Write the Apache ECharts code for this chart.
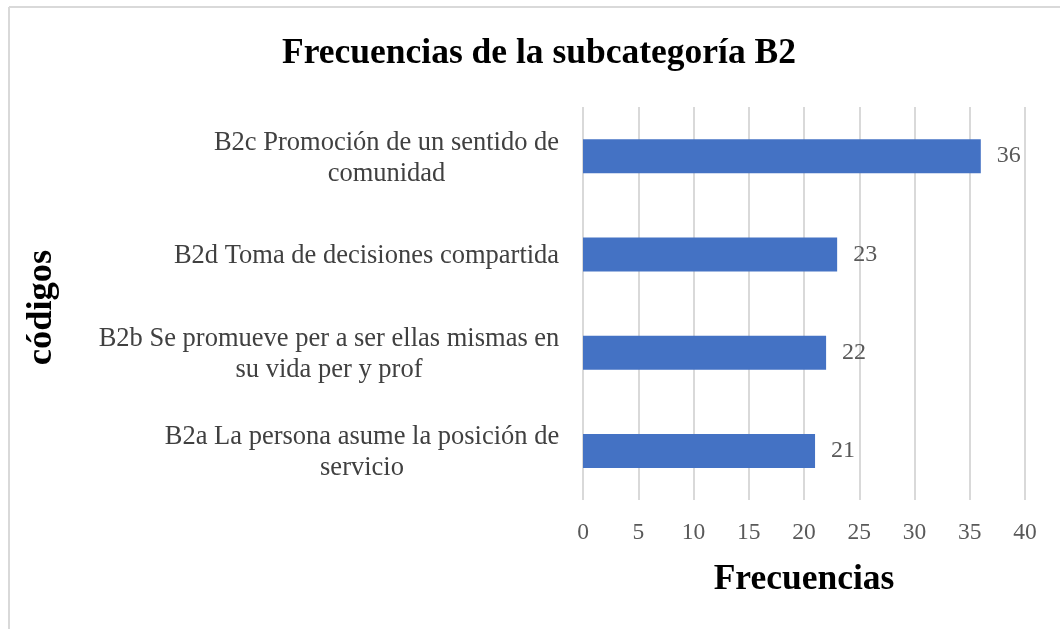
<!DOCTYPE html>
<html>
<head>
<meta charset="utf-8">
<script src="https://cdn.jsdelivr.net/npm/echarts@6/dist/echarts.min.js"></script>
<style>
html,body{margin:0;padding:0;background:#fff;}
#c{width:1060px;height:629px;}
</style>
</head>
<body>
<div id="c"></div>
<script>
const categories = [
  "B2c Promoción de un sentido de\ncomunidad",
  "B2d Toma de decisiones compartida",
  "B2b Se promueve per a ser ellas mismas en\nsu vida per y prof",
  "B2a La persona asume la posición de\nservicio"
];
const values = [36, 23, 22, 21];
const xTicks = [0, 5, 10, 15, 20, 25, 30, 35, 40];

const FONT = "Liberation Serif";
const LABEL_SIZE = 26.5;

// measure widest line of each category label so lines can be centred within the block
const cv = document.createElement('canvas').getContext('2d');
cv.font = LABEL_SIZE + "px '" + FONT + "'";
const rich = {};
categories.forEach((c, i) => {
  const w = Math.max(...c.split('\n').map(l => cv.measureText(l).width));
  rich['l' + i] = {
    width: Math.ceil(w) + 1, align: 'center',
    fontFamily: FONT, fontSize: LABEL_SIZE, color: '#404040', lineHeight: 31
  };
});

const chart = echarts.init(document.getElementById('c'), null, {renderer: 'canvas'});
chart.setOption({
  backgroundColor: '#ffffff',
  animation: false,
  title: {
    text: 'Frecuencias de la subcategoría B2',
    left: 277, top: 31,
    textStyle: {fontFamily: FONT, fontWeight: 'bold', fontSize: 35.5, color: '#000000'}
  },
  graphic: [
    {type: 'line', shape: {x1: 9, y1: 7, x2: 1060, y2: 7}, style: {stroke: '#d9d9d9', lineWidth: 2}},
    {type: 'line', shape: {x1: 9, y1: 7, x2: 9, y2: 629}, style: {stroke: '#d9d9d9', lineWidth: 2}}
  ],
  grid: {left: 583, right: 35, top: 107, bottom: 129, containLabel: false},
  xAxis: {
    type: 'value', min: 0, max: 40, interval: 5,
    name: 'Frecuencias', nameLocation: 'middle', nameGap: 62,
    nameTextStyle: {fontFamily: FONT, fontWeight: 'bold', fontSize: 35.5, color: '#000000'},
    axisLine: {show: false}, axisTick: {show: false},
    axisLabel: {
      margin: 21, fontFamily: FONT, fontSize: 23.5, color: '#595959',
      formatter: v => xTicks.includes(v) ? String(v) : ''
    },
    splitLine: {show: true, lineStyle: {color: '#d9d9d9', width: 2}}
  },
  yAxis: {
    type: 'category', data: categories, inverse: true,
    name: 'códigos', nameLocation: 'middle', nameGap: 523, nameRotate: 90,
    nameTextStyle: {fontFamily: FONT, fontWeight: 'bold', fontSize: 36.5, color: '#000000', padding: [0, 8, 0, 0]},
    axisLine: {show: false}, axisTick: {show: false}, splitLine: {show: false},
    axisLabel: {
      margin: 23, align: 'right', padding: [4, 0, 0, 0],
      formatter: (v, i) => v.split('\n').map(l => '{l' + i + '|' + l + '}').join('\n'),
      rich: rich
    }
  },
  series: [{
    type: 'bar', data: values, barWidth: 34,
    itemStyle: {color: '#4472C4'},
    label: {
      show: true, position: 'right', distance: 16,
      fontFamily: FONT, fontSize: 24, color: '#595959'
    }
  }]
});
</script>
</body>
</html>
